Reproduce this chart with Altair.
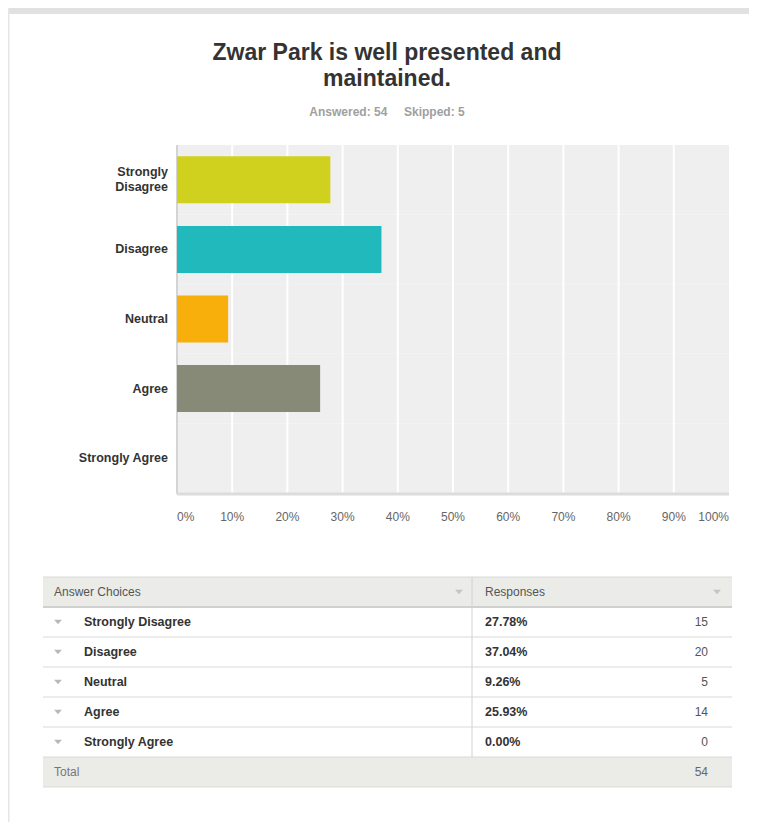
import altair as alt
import pandas as pd

FONT = "Liberation Sans, Arial, Helvetica, sans-serif"

# ---------------- data ----------------
title_text = "Zwar Park is well presented and\nmaintained."
subtitle_text = "Answered: 54\u00a0\u00a0\u00a0\u00a0\u00a0Skipped: 5"
choices = ["Strongly Disagree", "Disagree", "Neutral", "Agree", "Strongly Agree"]
choice_labels = ["Strongly\nDisagree", "Disagree", "Neutral", "Agree", "Strongly Agree"]
percents = [27.78, 37.04, 9.26, 25.93, 0.00]
counts = [15, 20, 5, 14, 0]
bar_colors = ["#D0D01F", "#21B9BB", "#F8AF0C", "#878A76", "#DA7B2F"]
tick_values = [0, 10, 20, 30, 40, 50, 60, 70, 80, 90, 100]
tick_labels = ["0%", "10%", "20%", "30%", "40%", "50%", "60%", "70%", "80%", "90%", "100%"]
header_left = "Answer Choices"
header_right = "Responses"
total_label = "Total"
total_count = 54

# ---------------- layout ----------------
W, H = 741, 814
PX = [169, 721]
PY = [137, 485]
TABLE_Y = [569, 779]
TL, TR, TDIV = 35, 724, 464

bars_df = pd.DataFrame({
    "choice": choices,
    "label": choice_labels,
    "pct": percents,
    "count": [str(c) for c in counts],
    "pct_text": [f"{p:.2f}%" for p in percents],
    "row": [1, 2, 3, 4, 5],
})
ticks_df = pd.DataFrame({"t": tick_values, "lab": tick_labels})
one = pd.DataFrame({"k": [0]})


def xs():
    return alt.Scale(domain=[0, 100], range=PX, nice=False, zero=False)


def yb(pi=0.325, po=0.1625):
    return alt.Scale(domain=choices, range=PY, paddingInner=pi, paddingOuter=po)


def rs():
    return alt.Scale(domain=[0, 7], range=TABLE_Y, nice=False, zero=False)


def txt(**kw):
    base = dict(font=FONT, fontSize=12)
    base.update(kw)
    return base


layers = []

# page decorations
layers.append(alt.Chart(one).mark_rect(color="#e1e1e1").encode(
    x=alt.value(0), x2=alt.value(W), y=alt.value(0), y2=alt.value(6)))
layers.append(alt.Chart(one).mark_rect(color="#e6e6e6").encode(
    x=alt.value(0), x2=alt.value(1.5), y=alt.value(0), y2=alt.value(H)))

# title & subtitle
layers.append(alt.Chart(one).mark_text(**txt(fontSize=23, fontWeight="bold", color="#333333",
                                             align="center", baseline="alphabetic",
                                             lineBreak="\n", lineHeight=26)).encode(
    x=alt.value(379), y=alt.value(52), text=alt.value(title_text)))
layers.append(alt.Chart(one).mark_text(**txt(fontSize=12, fontWeight="bold", color="#a0a0a0",
                                             align="center", baseline="middle")).encode(
    x=alt.value(379), y=alt.value(104), text=alt.value(subtitle_text)))

# plot background
layers.append(alt.Chart(bars_df).mark_rect(color="#efefef").transform_calculate(
    z="0", h="100").encode(
    x=alt.X("z:Q", scale=xs(), axis=None),
    x2="h:Q",
    y=alt.Y("choice:N", scale=yb(0, 0), axis=None, sort=choices)))

# gridlines
layers.append(alt.Chart(ticks_df).transform_filter("datum.t > 0 && datum.t < 100").mark_rule(
    color="#ffffff", strokeWidth=2).encode(
    x=alt.X("t:Q", scale=xs(), axis=None), y=alt.value(PY[0]), y2=alt.value(PY[1])))

# domains
layers.append(alt.Chart(ticks_df).transform_filter("datum.t == 0").mark_rule(
    color="#d4d4d4", strokeWidth=2).encode(
    x=alt.X("t:Q", scale=xs(), axis=None), y=alt.value(PY[0]), y2=alt.value(PY[1] + 1)))
layers.append(alt.Chart(one).mark_rule(color="#dcdcdc", strokeWidth=3).encode(
    x=alt.value(PX[0]), x2=alt.value(PX[1]), y=alt.value(PY[1] + 1)))

# bars
layers.append(alt.Chart(bars_df).mark_bar().encode(
    x=alt.X("pct:Q", scale=xs(), axis=None),
    y=alt.Y("choice:N", scale=yb(), axis=None, sort=choices),
    color=alt.Color("choice:N", scale=alt.Scale(domain=choices, range=bar_colors), legend=None)))

# y labels (single-line and two-line)
for cond, dy in [("indexof(datum.label, '\\n') < 0", 0), ("indexof(datum.label, '\\n') >= 0", -7.5)]:
    layers.append(alt.Chart(bars_df).transform_filter(cond).mark_text(
        **txt(fontSize=12.5, fontWeight="bold", color="#333333", align="right",
              baseline="middle", lineBreak="\n", lineHeight=15, dy=dy)).encode(
        x=alt.value(160),
        y=alt.Y("choice:N", scale=yb(), axis=None, sort=choices),
        text="label:N"))

# x labels (flush at ends)
for cond, al in [("datum.t == 0", "left"), ("datum.t > 0 && datum.t < 100", "center"),
                 ("datum.t == 100", "right")]:
    layers.append(alt.Chart(ticks_df).transform_filter(cond).mark_text(
        **txt(fontSize=12, color="#666666", align=al, baseline="middle")).encode(
        x=alt.X("t:Q", scale=xs(), axis=None), y=alt.value(509), text="lab:N"))

# ---------------- table ----------------
bands_df = pd.DataFrame({"r0": [0, 6], "r1": [1, 7]})
layers.append(alt.Chart(bands_df).mark_rect(color="#ebebe8").encode(
    x=alt.value(TL), x2=alt.value(TR),
    y=alt.Y("r0:Q", scale=rs(), axis=None), y2="r1:Q"))

lines_df = pd.DataFrame({"r": [0, 2, 3, 4, 5, 6, 7]})
layers.append(alt.Chart(lines_df).mark_rule(color="#d9d9d9", strokeWidth=1).encode(
    x=alt.value(TL), x2=alt.value(TR), y=alt.Y("r:Q", scale=rs(), axis=None)))
layers.append(alt.Chart(pd.DataFrame({"r": [1]})).mark_rule(color="#d0d0d0", strokeWidth=2).encode(
    x=alt.value(TL), x2=alt.value(TR), y=alt.Y("r:Q", scale=rs(), axis=None)))

layers.append(alt.Chart(pd.DataFrame({"r0": [0], "r1": [6]})).mark_rule(
    color="#d2d2d2", strokeWidth=1).encode(
    x=alt.value(TDIV), y=alt.Y("r0:Q", scale=rs(), axis=None), y2="r1:Q"))

hdr = pd.DataFrame({"rm": [0.5], "a": [header_left], "b": [header_right]})
layers.append(alt.Chart(hdr).mark_text(**txt(color="#555555", align="left", baseline="middle")).encode(
    x=alt.value(46), y=alt.Y("rm:Q", scale=rs(), axis=None), text="a:N"))
layers.append(alt.Chart(hdr).mark_text(**txt(color="#555555", align="left", baseline="middle")).encode(
    x=alt.value(477), y=alt.Y("rm:Q", scale=rs(), axis=None), text="b:N"))

TRI = "M-1,-0.55L1,-0.55L0,0.55Z"
for xv in (451, 709):
    layers.append(alt.Chart(hdr).mark_point(shape=TRI, filled=True, size=60, opacity=1,
                                            color="#c4c4c4").encode(
        x=alt.value(xv), y=alt.Y("rm:Q", scale=rs(), axis=None)))

rows = alt.Chart(bars_df).transform_calculate(rm="datum.row + 0.5")
layers.append(rows.mark_point(shape=TRI, filled=True, size=60, opacity=1, color="#b8b8b8").encode(
    x=alt.value(50), y=alt.Y("rm:Q", scale=rs(), axis=None)))
layers.append(rows.mark_text(**txt(fontSize=12.5, fontWeight="bold", color="#333333",
                                   align="left", baseline="middle")).encode(
    x=alt.value(76), y=alt.Y("rm:Q", scale=rs(), axis=None), text="choice:N"))
layers.append(rows.mark_text(**txt(fontSize=12.5, fontWeight="bold", color="#333333",
                                   align="left", baseline="middle")).encode(
    x=alt.value(477), y=alt.Y("rm:Q", scale=rs(), axis=None), text="pct_text:N"))
layers.append(rows.mark_text(**txt(color="#555555", align="right", baseline="middle")).encode(
    x=alt.value(700), y=alt.Y("rm:Q", scale=rs(), axis=None), text="count:N"))

tot = pd.DataFrame({"rm": [6.5], "a": [total_label], "b": [str(total_count)]})
layers.append(alt.Chart(tot).mark_text(**txt(color="#777777", align="left", baseline="middle")).encode(
    x=alt.value(46), y=alt.Y("rm:Q", scale=rs(), axis=None), text="a:N"))
layers.append(alt.Chart(tot).mark_text(**txt(color="#666666", align="right", baseline="middle")).encode(
    x=alt.value(700), y=alt.Y("rm:Q", scale=rs(), axis=None), text="b:N"))

chart = alt.layer(*layers).resolve_scale(
    x="independent", y="independent", color="independent"
).properties(
    width=W, height=H, padding=0, autosize=alt.AutoSizeParams(type="none"),
    background="#ffffff"
).configure_view(stroke=None)

chart.save("out.html", embed_options={"renderer": "svg", "actions": False})
